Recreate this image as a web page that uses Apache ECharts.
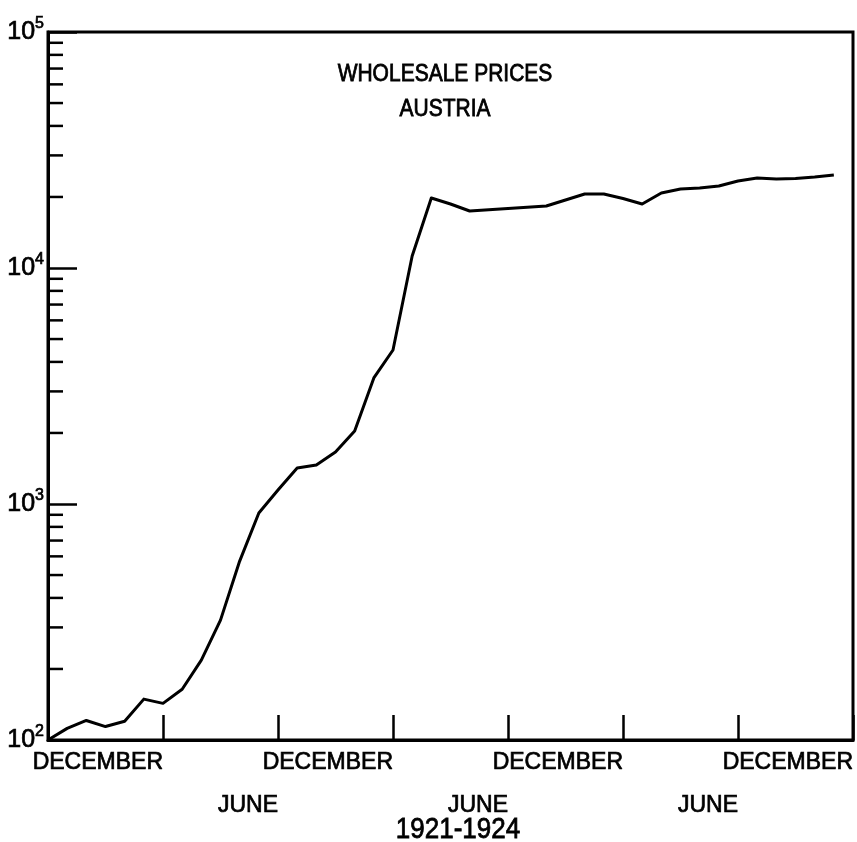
<!DOCTYPE html>
<html>
<head>
<meta charset="utf-8">
<script src="https://cdn.jsdelivr.net/npm/echarts@6/dist/echarts.min.js"></script>
<style>
  html, body { margin: 0; padding: 0; background: #fff; }
  #chart { width: 857px; height: 842px; }
</style>
</head>
<body>
<div id="chart"></div>
<script>
// Months counted from the start of the series (one point per month)
const months = [0, 1, 2, 3, 4, 5, 6, 7, 8, 9, 10, 11, 12, 13, 14, 15, 16, 17, 18, 19, 20,
  21, 22, 23, 24, 25, 26, 27, 28, 29, 30, 31, 32, 33, 34, 35, 36, 37, 38, 39, 40, 41];

// Wholesale price index, Austria
const prices = [100, 112, 121, 114, 120, 149, 143, 164, 218, 322, 573, 916, 1146, 1421,
  1463, 1661, 2038, 3420, 4494, 11240, 19800, 18670, 17440, 17650, 17870, 18090, 18310,
  19420, 20590, 20590, 19700, 18670, 20790, 21610, 21830, 22260, 23370, 24070, 23830,
  23950, 24300, 24780];

// Half-year tick labels along the time axis (every 6 months)
const xTickLabels = ['', 'DECEMBER', 'JUNE', 'DECEMBER', 'JUNE', 'DECEMBER', 'JUNE', 'DECEMBER'];

// Intermediate log ticks (2..9 in each decade)
const minorTickValues = [200, 300, 400, 500, 600, 700, 800, 900,
  2000, 3000, 4000, 5000, 6000, 7000, 8000, 9000,
  20000, 30000, 40000, 50000, 60000, 70000, 80000, 90000];

const titleLines = ['WHOLESALE PRICES', 'AUSTRIA'];
const periodLabel = '1921-1924';

const FONT = '"Liberation Sans", Arial, sans-serif';
// Slight outline thickens the lettering strokes
const INK = { color: '#000', textBorderColor: '#000', textBorderWidth: 0.7 };
const chart = echarts.init(document.getElementById('chart'), null, { renderer: 'canvas' });

// Labels alternate between two rows: December on the first row, June on the second
function rowLabel(row) {
  return function (v) {
    const i = Math.round(v / 6);
    const t = xTickLabels[i] || '';
    if (!t || i === 0) return '';
    return (i % 2 === 1) === (row === 0) ? t : '';
  };
}

const xBase = {
  type: 'value', min: 0, max: 42, interval: 6,
  position: 'bottom', offset: 0,
  splitLine: { show: false }
};

function titleText(text, x, y, size) {
  return {
    type: 'text', x: x, y: y, scaleY: 1.12, originY: 0, originX: 0,
    style: {
      text: text, font: size + 'px ' + FONT, fill: '#000',
      stroke: '#000', lineWidth: 0.7,
      align: 'center', verticalAlign: 'middle'
    }
  };
}

chart.setOption({
  animation: false,
  backgroundColor: '#fff',
  grid: {
    left: 48, top: 32, right: 4, bottom: 102,
    show: true, borderColor: '#000', borderWidth: 3, backgroundColor: 'transparent'
  },
  xAxis: [
    Object.assign({}, xBase, {
      axisLine: { show: true, lineStyle: { color: '#000', width: 3 } },
      axisTick: { show: true, inside: true, length: 25, lineStyle: { color: '#000', width: 2.5 } },
      axisLabel: Object.assign({
        show: true, margin: 11, align: 'right',
        fontFamily: FONT, fontSize: 23,
        showMinLabel: false, showMaxLabel: true,
        formatter: rowLabel(0)
      }, INK)
    }),
    Object.assign({}, xBase, {
      axisLine: { show: false },
      axisTick: { show: false },
      axisLabel: Object.assign({
        show: true, margin: 54, align: 'right',
        fontFamily: FONT, fontSize: 23,
        showMinLabel: false, showMaxLabel: false,
        formatter: rowLabel(1)
      }, INK)
    })
  ],
  yAxis: {
    type: 'log', logBase: 10, min: 100, max: 100000,
    axisLine: { show: true, lineStyle: { color: '#000', width: 3 } },
    axisTick: { show: true, inside: true, length: 29, lineStyle: { color: '#000', width: 2.5 } },
    splitLine: { show: false },
    minorTick: { show: false },
    axisLabel: {
      show: true, margin: 4, color: '#000',
      formatter: function (v) {
        return '{b|10}{e|' + Math.round(Math.log10(v)) + '}';
      },
      rich: {
        b: Object.assign({ fontFamily: FONT, fontSize: 25, lineHeight: 32 }, INK),
        e: Object.assign({ fontFamily: FONT, fontSize: 16, lineHeight: 16, verticalAlign: 'top' }, INK)
      }
    }
  },
  graphic: [
    titleText(titleLines[0], 445, 75, 21),
    titleText(titleLines[1], 445, 110, 21),
    titleText(periodLabel, 458, 830, 26)
  ],
  series: [
    {
      type: 'line',
      data: months.map(function (m, i) { return [m, prices[i]]; }),
      showSymbol: false, symbol: 'none', smooth: false,
      lineStyle: { color: '#000', width: 3, join: 'round' },
      z: 3
    },
    {
      type: 'custom',
      silent: true,
      clip: false,
      data: minorTickValues.map(function (v) { return [0, v]; }),
      encode: { x: 0, y: 1 },
      renderItem: function (params, api) {
        const p = api.coord([0, api.value(1)]);
        return {
          type: 'line',
          shape: { x1: p[0], y1: p[1], x2: p[0] + 15, y2: p[1] },
          style: { stroke: '#000', lineWidth: 2.5 }
        };
      },
      z: 4
    }
  ]
});
</script>
</body>
</html>
